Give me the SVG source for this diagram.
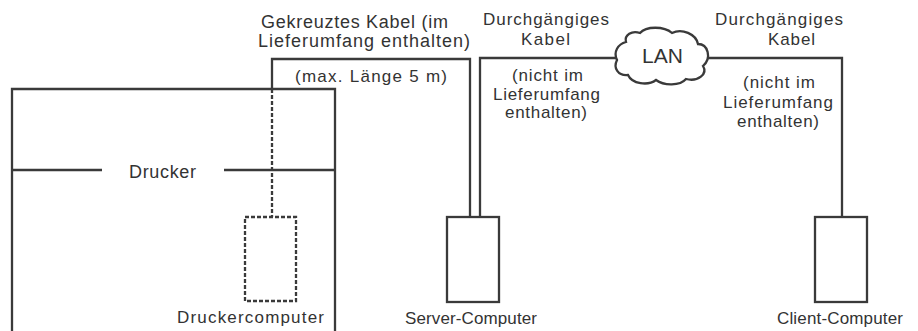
<svg xmlns="http://www.w3.org/2000/svg" width="918" height="331" viewBox="0 0 918 331">
<style>
.ln{fill:none;stroke:#3a3a3a;stroke-width:2.3}
.box{fill:#fff;stroke:#3a3a3a;stroke-width:2.3}
.dash{fill:none;stroke:#3a3a3a;stroke-width:2.3;stroke-dasharray:4 2}
text{font-family:"Liberation Sans",Arial,sans-serif;fill:#333;font-size:17px}
.lg{font-size:18px}
</style>
<rect width="918" height="331" fill="#fff"/>
<g id="drucker">
<path class="ln" d="M12,340 V89 H335 V340"/>
<path class="ln" d="M12,170 H102 M224,170 H335"/>
<text class="lg" x="129" y="178" textLength="67" lengthAdjust="spacing">Drucker</text>
</g>
<g id="druckercomputer">
<rect class="dash" x="245" y="217" width="51" height="84"/>
<text x="177" y="323" textLength="147" lengthAdjust="spacing">Druckercomputer</text>
</g>
<g id="server">
<rect class="box" x="447" y="217" width="52" height="85"/>
<text x="405" y="324" textLength="132" lengthAdjust="spacing">Server-Computer</text>
</g>
<g id="client">
<rect class="box" x="815" y="217" width="52" height="85"/>
<text x="777" y="324" textLength="126" lengthAdjust="spacing">Client-Computer</text>
</g>
<g id="lan">
<path class="box" d="M626,42 C618,44 613,52 617,60 C613,68 618,76 628,75 C632,84 648,86 656,80 C664,86 680,86 686,79 C698,82 708,74 703,66 C712,58 708,44 698,44 C696,34 682,28 672,33 C664,26 646,26 640,33 C632,30 624,35 626,42 Z"/>
<text x="642" y="63" style="font-size:21px" textLength="41" lengthAdjust="spacing">LAN</text>
</g>
<g id="connectors">
<path class="ln" d="M272,89 V59 H470 V217"/>
<path class="dash" d="M272,89 V217"/>
<path class="ln" d="M480,217 V58 H616"/>
<path class="ln" d="M707,58 H842 V217"/>
</g>
<g id="labels">
<text class="lg" x="261" y="28" textLength="187" lengthAdjust="spacing">Gekreuztes Kabel (im</text>
<text class="lg" x="258" y="47" textLength="212" lengthAdjust="spacing">Lieferumfang enthalten)</text>
<text x="295" y="82" textLength="152" lengthAdjust="spacing">(max. Länge 5 m)</text>
<text x="483" y="25" textLength="126" lengthAdjust="spacing">Durchgängiges</text>
<text x="521" y="45" textLength="49" lengthAdjust="spacing">Kabel</text>
<text x="512" y="81" textLength="71" lengthAdjust="spacing">(nicht im</text>
<text x="493" y="100" textLength="107" lengthAdjust="spacing">Lieferumfang</text>
<text x="505" y="118" textLength="82" lengthAdjust="spacing">enthalten)</text>
<text x="715" y="25" textLength="128" lengthAdjust="spacing">Durchgängiges</text>
<text x="768" y="45" textLength="47" lengthAdjust="spacing">Kabel</text>
<text x="743" y="88" textLength="72" lengthAdjust="spacing">(nicht im</text>
<text x="723" y="108" textLength="110" lengthAdjust="spacing">Lieferumfang</text>
<text x="737" y="127" textLength="82" lengthAdjust="spacing">enthalten)</text>
</g>
</svg>
